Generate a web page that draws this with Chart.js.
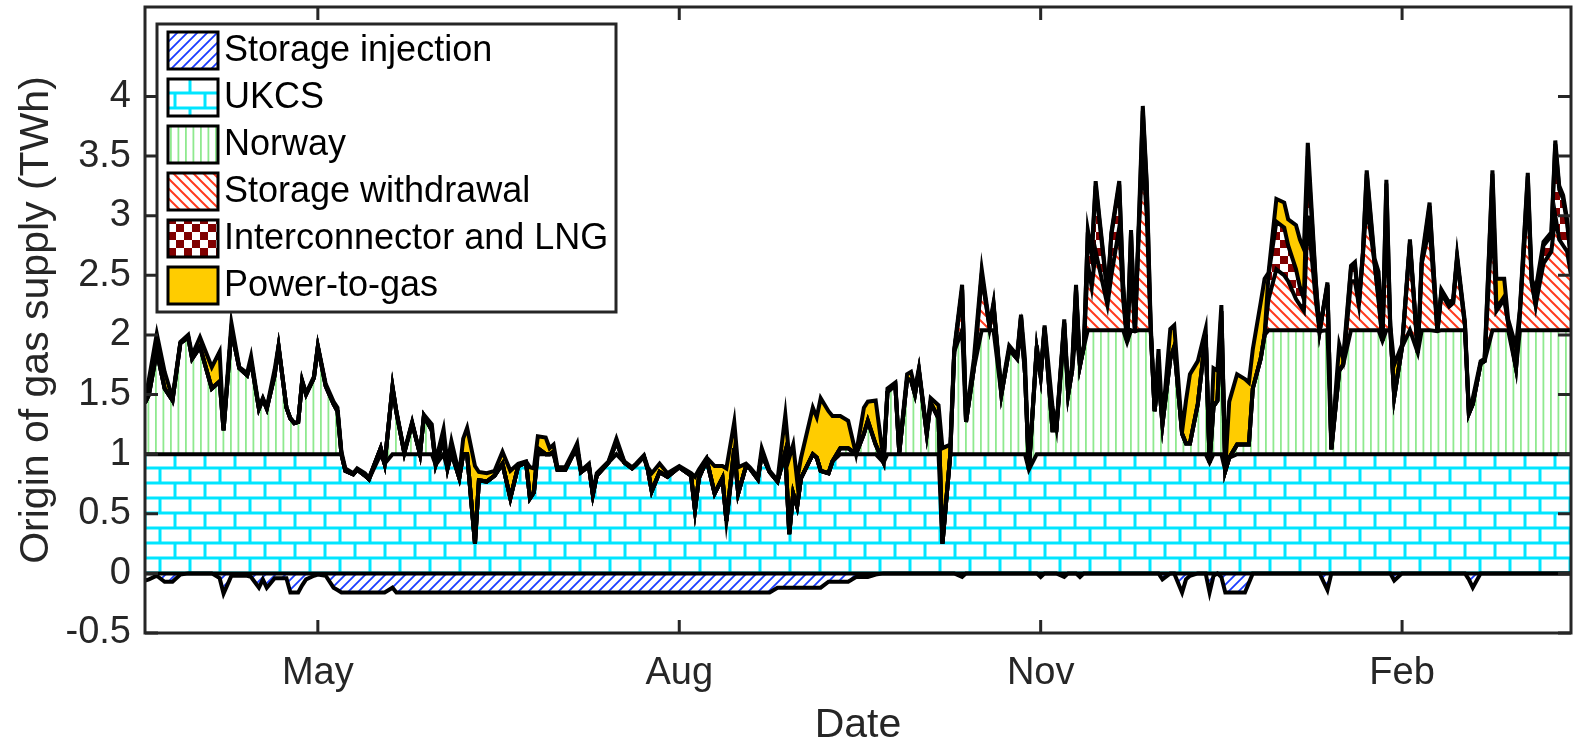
<!DOCTYPE html>
<html>
<head>
<meta charset="utf-8">
<script src="https://cdn.jsdelivr.net/npm/chart.js@4.4.1/dist/chart.umd.min.js"></script>
<style>
html, body { margin: 0; padding: 0; background: #fff; overflow: hidden; }
#wrap { width: 1574px; height: 742px; position: relative; }
</style>
</head>
<body>
<div id="wrap"><canvas id="grafico"></canvas></div>
<script>
// Day number counted from 18 March (day 0) to 16 March of the next year
const days = [
  0,1,3,5,7,9,11,12,14,17,19,20,22,24,26,27,29,30,31,33,
  34,36,37,38,39,40,41,43,44,46,48,49,50,51,53,54,56,57,60,61,
  63,64,66,68,70,71,73,74,76,77,78,80,81,82,84,85,87,89,91,93,
  95,97,98,99,100,102,103,104,105,107,109,110,111,113,114,115,118,120,122,124,
  125,127,128,129,131,133,136,139,140,141,143,145,147,148,150,151,153,154,156,157,
  159,161,163,164,165,166,167,170,171,172,174,175,177,179,181,183,184,186,188,189,
  191,192,194,195,196,197,199,200,202,203,205,206,208,209,211,213,215,216,218,220,
  222,223,224,225,227,228,229,231,232,234,235,236,237,238,239,240,241,242,243,245,
  246,248,249,250,251,252,253,254,255,256,257,258,259,261,262,264,265,266,268,270,
  271,272,273,274,275,276,278,280,281,282,284,285,286,288,290,291,293,294,295,296,
  298,299,301,302,304,305,307,308,309,310,311,313,314,315,316,317,318,320,322,324,
  325,327,329,330,332,333,334,336,337,338,340,341,343,344,345,346,347,349,350,352,
  353,354,356,358,359,360,361,362,363
];

// Daily gas supply by origin (TWh)
const ukcs = [
  1,1,1,1,1,1,1,1,1,1,1,1,1,1,1,1,1,1,1,1,
  1,1,1,1,1,1,1,1,1,1,1,1,1,0.86,0.83,0.87,0.82,0.79,1,0.92,
  1,1,1,1,1,1,1,0.91,1,0.88,1,0.8,1,1,0.25,0.78,0.77,0.82,0.92,0.63,
  0.9,0.93,0.63,0.68,1,1,1,1,0.87,0.87,1,1,0.85,0.9,0.66,0.82,0.93,1,0.93,0.88,
  0.91,0.98,0.87,0.69,0.85,0.81,0.89,0.82,0.53,0.8,0.95,0.67,0.8,0.44,1,0.67,0.9,0.88,0.79,1,
  0.85,0.77,1,0.33,0.67,0.56,0.8,1,0.97,0.86,0.84,0.94,1,1,1,1,1,1,0.93,1,
  1,1,1,1,1,1,1,1,1,0.25,1,1,1,1,1,1,1,1,1,1,
  1,1,1,0.87,1,1,1,1,1,1,1,1,1,1,1,1,1,1,1,1,
  1,1,1,1,1,1,1,1,1,1,1,1,1,1,1,1,1,1,1,1,
  0.93,1,1,1,0.86,0.97,1,1,1,1,1,1,1,1,1,1,1,1,1,1,
  1,1,1,1,1,1,1,1,1,1,1,1,1,1,1,1,1,1,1,1,
  1,1,1,1,1,1,1,1,1,1,1,1,1,1,1,1,1,1,1,1,
  1,1,1,1,1,1,1,1,1
];
const norway = [
  0.43,0.5,0.86,0.55,0.45,0.93,0.98,0.8,0.9,0.55,0.61,0.2,1.04,0.72,0.66,0.78,0.38,0.46,0.38,0.66,
  0.9,0.39,0.3,0.26,0.27,0.61,0.5,0.64,0.9,0.57,0.42,0.36,0,0,0,0,0,0,0.05,0,
  0.56,0.35,0.01,0.26,0,0.32,0.2,0,0.12,0,0.02,0,0,0,0,0,0,0,0,0,
  0,0,0,0,0.05,0,0,0.02,0,0,0,0.05,0,0,0,0,0,0.1,0,0,
  0,0,0,0,0,0,0,0,0,0,0,0,0,0,0.05,0,0,0,0,0,
  0,0,0.02,0,0,0,0,0,0,0,0,0,0.05,0.05,0,0.17,0.28,0.08,0,0.52,
  0.58,0.01,0.63,0.62,0.5,0.7,0.17,0.43,0.3,0,0,0.86,1.04,0.27,0.72,1.04,1.04,1.04,0.5,0.88,
  0.8,1.04,0.68,0,0.88,0.65,1.04,0.2,0.2,1.04,0.5,0.7,1.04,0.74,0.9,1.04,1.04,1.04,1.04,1.04,
  1.04,1.04,1.04,0.94,1.04,1.03,1.04,1.04,1.04,1.04,0.36,0.65,0.25,0.8,0.9,0.17,0.09,0.09,0.42,1.0,
  0,0.4,0.45,1.04,0,0,0.08,0.08,0.08,0.55,0.8,1.0,1.04,1.04,1.04,1.04,1.04,1.04,1.04,1.04,
  1.04,1.03,1.04,0.04,0.7,0.75,1.04,1.04,1.04,1.04,1.04,1.04,1.04,0.95,1.04,1.04,0.48,0.9,1.04,0.85,
  1.04,1.04,1.03,1.04,1.04,1.04,1.04,1.04,0.34,0.42,0.76,0.78,1.04,1.04,1.04,1.04,1.04,0.72,1.04,1.04,
  1.04,1.04,1.04,1.04,1.04,1.04,1.04,1.04,1.04
];
const withdrawal = [
  0,0,0,0,0,0,0,0,0,0,0,0,0,0,0,0,0,0,0,0,
  0,0,0,0,0,0,0,0,0,0,0,0,0,0,0,0,0,0,0,0,
  0,0,0,0,0,0,0,0,0,0,0,0,0,0,0,0,0,0,0,0,
  0,0,0,0,0,0,0,0,0,0,0,0,0,0,0,0,0,0,0,0,
  0,0,0,0,0,0,0,0,0,0,0,0,0,0,0,0,0,0,0,0,
  0,0,0,0,0,0,0,0,0,0,0,0,0,0,0,0,0,0,0,0,
  0,0,0,0,0,0,0,0,0,0,0,0,0.34,0,0,0.46,0.02,0.21,0,0,
  0,0.11,0,0,0,0,0.02,0,0,0.06,0,0,0.34,0,0,0.56,0.36,0.66,0.51,0.21,
  0.46,0.86,0.26,0,0.56,0,0.86,1.46,0.96,0.02,0,0,0,0,0,0,0,0,0,0,
  0,0,0,0.16,0,0,0,0,0,0,0,0,0.26,0.51,0.46,0.41,0.26,0.21,0.16,0.96,
  0.26,0,0.38,0,0,0,0.41,0.41,0.21,0.62,1.06,0.56,0.26,0,0.96,0.02,0,0,0.73,0,
  0.56,0.86,0,0.31,0.2,0.23,0.6,0.04,0,0,0,0,0.96,0.16,0.21,0.26,0.06,0,0.15,1.16,
  0.4,0.21,0.56,0.66,0.96,0.76,0.71,0.66,0.46
];
const interconnector = [
  0,0,0,0,0,0,0,0,0,0,0,0,0,0,0,0,0,0,0,0,
  0,0,0,0,0,0,0,0,0,0,0,0,0,0,0,0,0,0,0,0,
  0,0,0,0,0,0,0,0,0,0,0,0,0,0,0,0,0,0,0,0,
  0,0,0,0,0,0,0,0,0,0,0,0,0,0,0,0,0,0,0,0,
  0,0,0,0,0,0,0,0,0,0,0,0,0,0,0,0,0,0,0,0,
  0,0,0,0,0,0,0,0,0,0,0,0,0,0,0,0,0,0,0,0,
  0,0,0,0,0,0,0,0,0,0,0,0,0,0,0,0,0,0,0,0,
  0,0,0,0,0,0,0,0,0,0,0,0,0,0,0,0.26,0.26,0.55,0.39,0.09,
  0.34,0.36,0.1,0,0.26,0,0,0.38,0.25,0,0,0,0,0,0,0,0,0,0,0,
  0,0,0,0,0,0,0,0,0,0,0,0,0.2,0.4,0.4,0.3,0.25,0.15,0.1,0.5,
  0.15,0,0,0,0,0,0.11,0.13,0,0,0.25,0,0,0,0.27,0,0,0,0,0,
  0,0.18,0,0,0,0,0,0,0,0,0,0,0.35,0.05,0.02,0.02,0,0,0,0.13,
  0,0,0.15,0.13,0.6,0.42,0.39,0.24,0.12
];
const powerToGas = [
  0.02,0.13,0.15,0.14,0.02,0.01,0.02,0.03,0.08,0.18,0.25,0.02,0.06,0.01,0.02,0.04,0.01,0.01,0.01,0.05,
  0.01,0,0,0,0,0.01,0.01,0.01,0.01,0.02,0.02,0.03,0.02,0.02,0.01,0.01,0.02,0.01,0,0,
  0.01,0.01,0.01,0.01,0,0.01,0.05,0.03,0.09,0.04,0.09,0.03,0.13,0.22,0.65,0.07,0.07,0.04,0.1,0.23,
  0.02,0.01,0.26,0.2,0.1,0.14,0.05,0.06,0.02,0.02,0.02,0.04,0.01,0.02,0.01,0.02,0.01,0.03,0.01,0.01,
  0.01,0.01,0.02,0.15,0.07,0.03,0.01,0.02,0.28,0.07,0.02,0.23,0.1,0.44,0.22,0.22,0.02,0.01,0.02,0.05,
  0.01,0.01,0.31,0.64,0.41,0.22,0.17,0.39,0.34,0.61,0.52,0.38,0.27,0.23,0,0.22,0.16,0.37,0.02,0.03,
  0.02,0.01,0.04,0.07,0.05,0.02,0.02,0.04,0.11,0.8,0.08,0.02,0.04,0.03,0.08,0.05,0.02,0.02,0.03,0.03,
  0.03,0.02,0.12,0.01,0.03,0.02,0.02,0.2,0.02,0.03,0.03,0.05,0.04,0.01,0.01,0.02,0.03,0.04,0.03,0.02,
  0.02,0.03,0.02,0,0.02,0,0.07,0.04,0.03,0.04,0.02,0.23,0.02,0.25,0.18,0.02,0.36,0.58,0.36,0.05,
  0.01,0.32,0.25,0.05,0.02,0.47,0.59,0.55,0.52,0.33,0.47,0.47,0.02,0.19,0.21,0.22,0.37,0.4,0.42,0.11,
  0.02,0,0.02,0.01,0.22,0.05,0.02,0.03,0.02,0.03,0.03,0.04,0.23,0.02,0.03,0.02,0.27,0.02,0.03,0.01,
  0.04,0.03,0,0.03,0.03,0.03,0.03,0.03,0.02,0.05,0.02,0.02,0.03,0.22,0.2,0.15,0.03,0.18,0.03,0.03,
  0.03,0.13,0.03,0.03,0.03,0.03,0.03,0.03,0.02
];
// Storage injection is drawn below zero
const injection = [
  -0.06,-0.05,-0.02,-0.07,-0.07,-0.01,0,0,0,0,-0.04,-0.17,-0.02,-0.02,-0.02,-0.03,-0.12,-0.05,-0.12,-0.04,
  -0.04,-0.04,-0.16,-0.16,-0.16,-0.1,-0.05,-0.02,-0.01,-0.02,-0.12,-0.14,-0.16,-0.16,-0.16,-0.16,-0.16,-0.16,-0.16,-0.16,
  -0.12,-0.16,-0.16,-0.16,-0.16,-0.16,-0.16,-0.16,-0.16,-0.16,-0.16,-0.16,-0.16,-0.16,-0.16,-0.16,-0.16,-0.16,-0.16,-0.16,
  -0.16,-0.16,-0.16,-0.16,-0.16,-0.16,-0.16,-0.16,-0.16,-0.16,-0.16,-0.16,-0.16,-0.16,-0.16,-0.16,-0.16,-0.16,-0.16,-0.16,
  -0.16,-0.16,-0.16,-0.16,-0.16,-0.16,-0.16,-0.16,-0.16,-0.16,-0.16,-0.16,-0.16,-0.16,-0.16,-0.16,-0.16,-0.16,-0.16,-0.16,
  -0.16,-0.12,-0.12,-0.12,-0.12,-0.12,-0.12,-0.12,-0.12,-0.12,-0.07,-0.07,-0.07,-0.07,-0.03,-0.03,-0.03,-0.01,0,0,
  0,0,0,0,0,0,0,0,0,0,0,0,-0.03,0,0,0,0,0,0,0,
  0,0,0,0,0,-0.03,0,0,0,-0.03,0,0,0,-0.03,0,0,0,0,0,0,
  0,0,0,0,0,0,0,0,0,0,0,0,-0.05,0,0,-0.16,-0.05,-0.02,0,0,
  -0.16,-0.02,0,-0.03,-0.16,-0.16,-0.16,-0.16,-0.08,0,0,0,0,0,0,0,0,0,0,0,
  0,0,-0.14,0,0,0,0,0,0,0,0,0,0,0,0,0,-0.06,0,0,0,
  0,0,0,0,0,0,0,0,-0.05,-0.12,0,0,0,0,0,0,0,0,0,0,
  0,0,0,0,0,0,0,0,0
];

const monthDays = [44, 136, 228, 320];
const monthLabels = ['May', 'Aug', 'Nov', 'Feb'];
const yTicks = [-0.5, 0, 0.5, 1, 1.5, 2, 2.5, 3, 3.5, 4];

const FONT = "'Liberation Sans', Arial, sans-serif";
const AXIS = '#262626';

// Fill patterns (MATLAB hatch look)
function makePattern(w, h, draw) {
  const c = document.createElement('canvas');
  c.width = w; c.height = h;
  const g = c.getContext('2d');
  g.fillStyle = '#fff';
  g.fillRect(0, 0, w, h);
  draw(g);
  return g.createPattern(c, 'repeat');
}
const blueHatch = makePattern(10, 10, g => {
  g.strokeStyle = '#1a3cff'; g.lineWidth = 1.8;
  g.beginPath();
  g.moveTo(-2, 12); g.lineTo(12, -2);
  g.moveTo(-2, 2); g.lineTo(2, -2);
  g.moveTo(8, 12); g.lineTo(12, 8);
  g.stroke();
});
const bricks = makePattern(30, 30, g => {
  g.strokeStyle = '#00e5ff'; g.lineWidth = 3;
  g.beginPath();
  g.moveTo(0, 3); g.lineTo(30, 3);
  g.moveTo(0, 18); g.lineTo(30, 18);
  g.moveTo(25, 3); g.lineTo(25, 18);
  g.moveTo(10, 18); g.lineTo(10, 30);
  g.moveTo(10, 0); g.lineTo(10, 3);
  g.stroke();
});
const greenLines = makePattern(15, 4, g => {
  g.fillStyle = '#8fe98f';
  g.fillRect(5, 0, 1.8, 4);
  g.fillRect(12.5, 0, 1.8, 4);
});
const redHatch = makePattern(10, 10, g => {
  g.strokeStyle = '#ff3a1f'; g.lineWidth = 2;
  g.beginPath();
  g.moveTo(-2, -2); g.lineTo(12, 12);
  g.moveTo(-2, 8); g.lineTo(2, 12);
  g.moveTo(8, -2); g.lineTo(12, 2);
  g.stroke();
});
const checker = makePattern(16, 16, g => {
  g.fillStyle = '#800000';
  g.fillRect(0, 0, 8, 8);
  g.fillRect(8, 8, 8, 8);
});

// stacked levels
const lvlUkcs = ukcs.slice();
const lvlNorway = lvlUkcs.map((v, k) => v + norway[k]);
const lvlWithdrawal = lvlNorway.map((v, k) => v + withdrawal[k]);
const lvlInter = lvlWithdrawal.map((v, k) => v + interconnector[k]);
const lvlP2g = lvlInter.map((v, k) => v + powerToGas[k]);
const points = arr => days.map((d, k) => ({ x: d, y: arr[k] }));

function layer(label, arr, bg, fill) {
  return {
    label: label,
    data: points(arr),
    backgroundColor: bg,
    borderColor: '#000',
    borderWidth: 4,
    pointRadius: 0,
    tension: 0,
    fill: fill
  };
}

// box with inward ticks on all four sides, plus the black zero edge
const boxPlugin = {
  id: 'box',
  afterDatasetsDraw(chart) {
    const { ctx, chartArea: a, scales: { x, y } } = chart;
    ctx.save();
    const y0 = y.getPixelForValue(0);
    ctx.strokeStyle = '#000';
    ctx.lineWidth = 4;
    ctx.beginPath();
    ctx.moveTo(a.left, y0); ctx.lineTo(a.right, y0);
    ctx.stroke();
    ctx.strokeStyle = AXIS;
    ctx.lineWidth = 3;
    ctx.strokeRect(a.left, a.top, a.right - a.left, a.bottom - a.top);
    ctx.beginPath();
    yTicks.forEach(v => {
      const py = y.getPixelForValue(v);
      ctx.moveTo(a.left, py); ctx.lineTo(a.left + 13, py);
      ctx.moveTo(a.right, py); ctx.lineTo(a.right - 13, py);
    });
    monthDays.forEach(v => {
      const px = x.getPixelForValue(v);
      ctx.moveTo(px, a.bottom); ctx.lineTo(px, a.bottom - 13);
      ctx.moveTo(px, a.top); ctx.lineTo(px, a.top + 13);
    });
    ctx.stroke();
    ctx.restore();
  }
};

// legend drawn as a boxed list in the upper left corner
const legendPlugin = {
  id: 'boxLegend',
  afterDraw(chart) {
    const ctx = chart.ctx;
    ctx.save();
    ctx.fillStyle = '#fff';
    ctx.fillRect(157, 24, 459, 288);
    ctx.strokeStyle = AXIS;
    ctx.lineWidth = 3;
    ctx.strokeRect(157, 24, 459, 288);
    ctx.font = '36px ' + FONT;
    ctx.textBaseline = 'middle';
    chart.data.datasets.forEach((ds, k) => {
      const top = 32 + k * 47;
      ctx.fillStyle = ds.backgroundColor;
      ctx.fillRect(168, top, 50, 37);
      ctx.strokeStyle = '#000';
      ctx.lineWidth = 3;
      ctx.strokeRect(168, top, 50, 37);
      ctx.fillStyle = '#000';
      ctx.fillText(ds.label, 224, top + 19);
    });
    ctx.restore();
  }
};

new Chart(document.getElementById('grafico'), {
  type: 'line',
  data: {
    datasets: [
      layer('Storage injection', injection, blueHatch, 'origin'),
      layer('UKCS', lvlUkcs, bricks, 'origin'),
      layer('Norway', lvlNorway, greenLines, '-1'),
      layer('Storage withdrawal', lvlWithdrawal, redHatch, '-1'),
      layer('Interconnector and LNG', lvlInter, checker, '-1'),
      layer('Power-to-gas', lvlP2g, '#ffcc00', '-1')
    ]
  },
  options: {
    responsive: true,
    maintainAspectRatio: false,
    animation: false,
    layout: { padding: { left: 0, right: 3, top: 7, bottom: 0 } },
    plugins: {
      legend: { display: false },
      tooltip: { enabled: false },
      filler: { drawTime: 'beforeDatasetsDraw' }
    },
    scales: {
      x: {
        type: 'linear',
        min: 0,
        max: 363,
        afterBuildTicks: s => { s.ticks = monthDays.map(v => ({ value: v })); },
        afterFit: s => { s.height = 109; s.paddingLeft = 0; s.paddingRight = 0; },
        ticks: {
          autoSkip: false,
          maxRotation: 0,
          padding: 18,
          color: AXIS,
          font: { family: FONT, size: 38 },
          callback: v => monthLabels[monthDays.indexOf(v)]
        },
        grid: { display: false, drawTicks: false },
        border: { display: false },
        title: {
          display: true,
          text: 'Date',
          color: AXIS,
          padding: 0,
          font: { family: FONT, size: 41, lineHeight: 0.8 }
        }
      },
      y: {
        min: -0.5,
        max: 4.75,
        afterBuildTicks: s => { s.ticks = yTicks.map(v => ({ value: v })); },
        afterFit: s => { s.width = 145; s.paddingTop = 0; s.paddingBottom = 0; },
        ticks: {
          padding: 14,
          color: AXIS,
          font: { family: FONT, size: 38 },
          callback: v => String(v)
        },
        grid: { display: false, drawTicks: false },
        border: { display: false },
        title: {
          display: true,
          text: 'Origin of gas supply (TWh)',
          color: AXIS,
          padding: { top: 16, bottom: 0 },
          font: { family: FONT, size: 41, lineHeight: 1 }
        }
      }
    }
  },
  plugins: [boxPlugin, legendPlugin]
});
</script>
</body>
</html>
